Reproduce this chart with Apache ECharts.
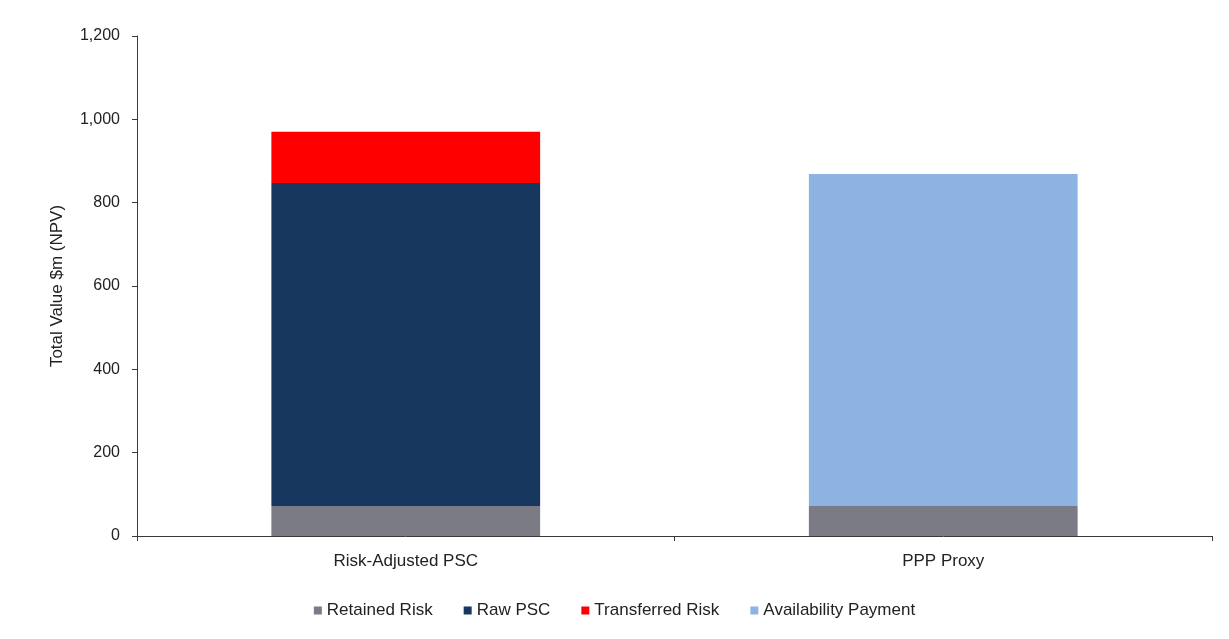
<!DOCTYPE html>
<html>
<head>
<meta charset="utf-8">
<script src="https://cdn.jsdelivr.net/npm/echarts@6/dist/echarts.min.js"></script>
<style>
  html, body { margin: 0; padding: 0; background: #ffffff; }
  #chart { width: 1229px; height: 639px; }
</style>
</head>
<body>
<div id="chart"></div>
<script>
// Cost comparison, $m NPV
const categories = ['Risk-Adjusted PSC', 'PPP Proxy'];
const retainedRisk = [72, 72];
const rawPSC = [775, '-'];
const transferredRisk = [123, '-'];
const availabilityPayment = ['-', 797];
const yTicks = [0, 200, 400, 600, 800, 1000, 1200];

const FONT = '"Liberation Sans", Arial, sans-serif';
const AXIS_COLOR = '#3a3a3a';
const TEXT_COLOR = '#222222';

const chart = echarts.init(document.getElementById('chart'));

function barSeries(name, data, color) {
  return {
    name: name,
    type: 'bar',
    stack: 'total',
    data: data,
    barWidth: '50%',
    itemStyle: { color: color },
    emphasis: { disabled: true }
  };
}

chart.setOption({
  animation: false,
  backgroundColor: '#ffffff',
  textStyle: { fontFamily: FONT },
  grid: { left: 137, right: 17, top: 36, bottom: 103, containLabel: false },
  legend: {
    bottom: 15,
    left: 'center',
    icon: 'rect',
    itemWidth: 8,
    itemHeight: 8,
    itemGap: 31,
    textStyle: { fontFamily: FONT, fontSize: 17, color: TEXT_COLOR, padding: [0, 0, 0, 0] },
    data: ['Retained Risk', 'Raw PSC', 'Transferred Risk', 'Availability Payment']
  },
  xAxis: {
    type: 'category',
    data: categories,
    axisLine: { lineStyle: { color: AXIS_COLOR, width: 1 } },
    axisTick: { show: true, alignWithLabel: false, length: 5, lineStyle: { color: AXIS_COLOR } },
    axisLabel: { fontFamily: FONT, fontSize: 17, color: TEXT_COLOR, margin: 17 }
  },
  yAxis: {
    type: 'value',
    min: yTicks[0],
    max: yTicks[yTicks.length - 1],
    interval: yTicks[1] - yTicks[0],
    name: 'Total Value $m (NPV)',
    nameLocation: 'middle',
    nameRotate: 90,
    nameGap: 71,
    nameTextStyle: { fontFamily: FONT, fontSize: 17, color: TEXT_COLOR },
    axisLine: { show: true, lineStyle: { color: AXIS_COLOR, width: 1 } },
    axisTick: { show: true, length: 5, lineStyle: { color: AXIS_COLOR } },
    splitLine: { show: false },
    axisLabel: {
      fontFamily: FONT,
      fontSize: 16,
      color: TEXT_COLOR,
      margin: 17,
      formatter: v => v.toLocaleString('en-US')
    }
  },
  series: [
    barSeries('Retained Risk', retainedRisk, '#7a7b85'),
    barSeries('Raw PSC', rawPSC, '#17375e'),
    barSeries('Transferred Risk', transferredRisk, '#ff0000'),
    barSeries('Availability Payment', availabilityPayment, '#8db3e2')
  ]
});
</script>
</body>
</html>
